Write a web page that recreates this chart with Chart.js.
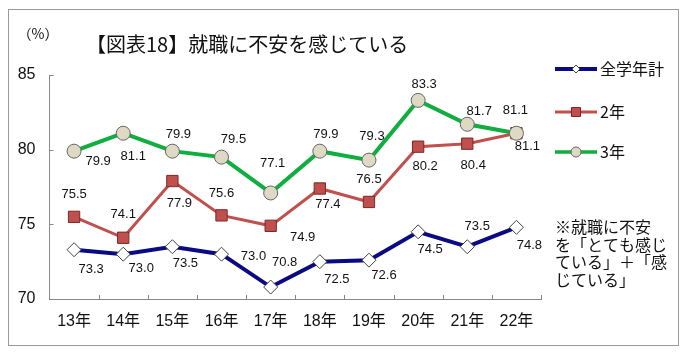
<!DOCTYPE html>
<html>
<head>
<meta charset="utf-8">
<script src="https://cdn.jsdelivr.net/npm/chart.js@4.4.0/dist/chart.umd.min.js"></script>
<style>
html, body { margin: 0; padding: 0; background: #fff; }
#wrap { width: 689px; height: 358px; }
</style>
</head>
<body>
<div id="wrap"><canvas id="chart18"></canvas></div>
<script>
// 就職に不安を感じている (%)
var years = ['13年', '14年', '15年', '16年', '17年', '18年', '19年', '20年', '21年', '22年'];
var allGrades = [73.3, 73.0, 73.5, 73.0, 70.8, 72.5, 72.6, 74.5, 73.5, 74.8];
var grade2 = [75.5, 74.1, 77.9, 75.6, 74.9, 77.4, 76.5, 80.2, 80.4, 81.1];
var grade3 = [79.9, 81.1, 79.9, 79.5, 77.1, 79.9, 79.3, 83.3, 81.7, 81.1];
var yTicks = [70, 75, 80, 85];

// where each value label sits, px from its point
var offAll = [[17, 20], [18, 14], [13, 17], [32, 2], [14, -25], [17, 18], [15, 15], [12, 18], [10, -20], [13, 18]];
var off2 = [[0, -22], [0, -23], [7, 22], [0, -22], [32, 12], [8, 16], [0, -23], [7, 20], [6, 22], [11, 13]];
var off3 = [[24, 10], [10, 23], [6, -17], [12, -18], [2, -30], [6, -17], [3, -24], [6, -16], [12, -13], [-1, -23]];

var navy = '#0a0a84';
var red = '#c0504d';
var green = '#0fae3e';
var numFont = '13px "Liberation Sans", Arial, sans-serif';
var jpFont = '"Noto Sans CJK JP", sans-serif';

function drawMarker(ctx, style, x, y, r, fill, stroke) {
   ctx.save();
   ctx.fillStyle = fill;
   ctx.strokeStyle = stroke;
   ctx.lineWidth = 1;
   ctx.beginPath();
   if (style === 'diamond') {
      ctx.moveTo(x, y - r); ctx.lineTo(x + r, y); ctx.lineTo(x, y + r); ctx.lineTo(x - r, y); ctx.closePath();
   } else if (style === 'square') {
      ctx.rect(x - r, y - r, 2 * r, 2 * r);
   } else {
      ctx.arc(x, y, r, 0, Math.PI * 2);
   }
   ctx.fill();
   ctx.stroke();
   ctx.restore();
}

var decor = {
   id: 'decor',
   beforeDraw: function (chart) {
      var ctx = chart.ctx;
      ctx.save();
      ctx.fillStyle = '#fff';
      ctx.fillRect(0, 0, chart.width, chart.height);
      ctx.strokeStyle = '#9a9a9a';
      ctx.lineWidth = 1;
      ctx.strokeRect(8.5, 9.5, 670, 336);
      ctx.restore();
   },
   afterDatasetsDraw: function (chart) {
      var ctx = chart.ctx;
      var xs = chart.scales.x;
      var ys = chart.scales.y;
      var area = chart.chartArea;
      ctx.save();

      // inward tick marks
      ctx.strokeStyle = '#888';
      ctx.lineWidth = 1;
      ctx.beginPath();
      yTicks.forEach(function (v) {
         var py = Math.round(ys.getPixelForValue(v)) + 0.5;
         ctx.moveTo(area.left, py);
         ctx.lineTo(area.left + 4, py);
      });
      for (var i = 0; i < years.length; i++) {
         var px = Math.round(xs.getPixelForValue(i + 0.5)) + 0.5;
         ctx.moveTo(px, area.bottom);
         ctx.lineTo(px, area.bottom - 4);
      }
      ctx.stroke();

      // value labels
      ctx.font = numFont;
      ctx.fillStyle = '#111';
      ctx.textAlign = 'center';
      ctx.textBaseline = 'middle';
      chart.data.datasets.forEach(function (ds, di) {
         var meta = chart.getDatasetMeta(di);
         meta.data.forEach(function (pt, j) {
            var o = ds.labelOffsets[j];
            ctx.fillText(ds.data[j].toFixed(1), pt.x + o[0], pt.y + o[1]);
         });
      });

      // title and unit
      ctx.textAlign = 'left';
      ctx.fillStyle = '#111';
      ctx.font = '20px ' + jpFont;
      ctx.fillText('【図表18】就職に不安を感じている', 86, 44);
      ctx.textAlign = 'center';
      ctx.font = '14px ' + jpFont;
      ctx.fillText('（%）', 38, 34);

      // legend
      var legendRows = [
         { text: '全学年計', color: navy, width: 4, marker: 'diamond', r: 4, fill: '#fff', stroke: '#444', y: 69 },
         { text: '2年', color: red, width: 3, marker: 'square', r: 4.5, fill: red, stroke: '#7a2826', y: 112 },
         { text: '3年', color: green, width: 3.5, marker: 'circle', r: 5, fill: '#ddd9c3', stroke: '#666', y: 152 }
      ];
      legendRows.forEach(function (row) {
         ctx.strokeStyle = row.color;
         ctx.lineWidth = row.width;
         ctx.beginPath();
         ctx.moveTo(555, row.y);
         ctx.lineTo(597, row.y);
         ctx.stroke();
         drawMarker(ctx, row.marker, 576, row.y, row.r, row.fill, row.stroke);
         ctx.fillStyle = '#111';
         ctx.font = '16px ' + jpFont;
         ctx.textAlign = 'left';
         ctx.textBaseline = 'middle';
         ctx.fillText(row.text, 600, row.y);
      });

      // note
      var note = ['※就職に不安', 'を「とても感じ', 'ている」＋「感', 'じている」'];
      ctx.font = '16px ' + jpFont;
      note.forEach(function (line, k) {
         ctx.fillText(line, 555, 227 + k * 17.6);
      });
      ctx.restore();
   }
};

new Chart('chart18', {
   type: 'line',
   data: {
      labels: years,
      datasets: [
         {
            label: '全学年計',
            data: allGrades,
            labelOffsets: offAll,
            borderColor: navy,
            borderWidth: 4,
            pointStyle: 'rectRot',
            pointRadius: 7,
            pointBackgroundColor: '#fff',
            pointBorderColor: '#444',
            pointBorderWidth: 1,
            order: 2
         },
         {
            label: '2年',
            data: grade2,
            labelOffsets: off2,
            borderColor: red,
            borderWidth: 3,
            pointStyle: 'rect',
            pointRadius: 8,
            pointBackgroundColor: red,
            pointBorderColor: '#7a2826',
            pointBorderWidth: 1,
            order: 1
         },
         {
            label: '3年',
            data: grade3,
            labelOffsets: off3,
            borderColor: green,
            borderWidth: 4,
            pointStyle: 'circle',
            pointRadius: 7,
            pointBackgroundColor: '#ddd9c3',
            pointBorderColor: '#666',
            pointBorderWidth: 1,
            order: 0
         }
      ]
   },
   options: {
      responsive: true,
      maintainAspectRatio: false,
      animation: false,
      devicePixelRatio: 1,
      layout: { padding: { top: 75, right: 148, left: 0, bottom: 0 } },
      plugins: {
         legend: { display: false },
         tooltip: { enabled: false }
      },
      elements: { line: { tension: 0 } },
      scales: {
         x: {
            offset: true,
            grid: { display: false, drawTicks: false },
            border: { display: true, color: '#888', width: 1 },
            ticks: {
               color: '#111',
               padding: 13,
               maxRotation: 0,
               font: { size: 16, family: '"Liberation Sans", "Noto Sans CJK JP", sans-serif' }
            },
            afterFit: function (s) { s.height = 59; }
         },
         y: {
            min: 70,
            max: 85,
            grid: { display: false, drawTicks: false },
            border: { display: true, color: '#888', width: 1 },
            ticks: {
               color: '#111',
               padding: 14,
               font: { size: 16, family: '"Liberation Sans", sans-serif' }
            },
            afterBuildTicks: function (s) {
               s.ticks = yTicks.map(function (v) { return { value: v }; });
            },
            afterFit: function (s) { s.width = 49.5; }
         }
      }
   },
   plugins: [decor]
});
</script>
</body>
</html>
